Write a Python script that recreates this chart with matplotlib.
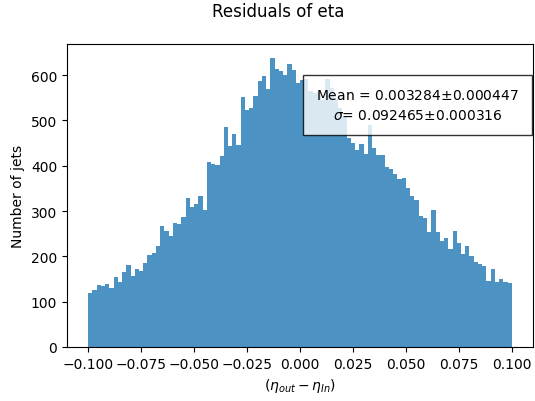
import matplotlib
matplotlib.use("Agg")
import matplotlib.pyplot as plt
import numpy as np

# histogram of eta residuals, 100 bins between -0.1 and 0.1
bin_lo = -0.1
bin_hi = 0.1
n_bins = 100
counts = [119, 126, 136, 134, 139, 130, 154, 144, 166, 182,
          157, 172, 168, 185, 204, 207, 222, 266, 255, 245,
          274, 272, 286, 330, 310, 315, 333, 303, 409, 405,
          402, 422, 486, 444, 471, 446, 552, 523, 527, 554,
          587, 599, 570, 637, 614, 609, 600, 625, 611, 583,
          590, 592, 566, 560, 562, 545, 592, 572, 548, 528,
          508, 462, 451, 435, 449, 425, 491, 440, 424, 423,
          397, 394, 381, 370, 374, 352, 334, 325, 290, 285,
          253, 302, 253, 235, 240, 216, 257, 229, 205, 222,
          200, 188, 183, 178, 146, 172, 144, 151, 143, 142]

mean_txt = "Mean = 0.003284$\\pm$0.000447"
sigma_txt = "$\\sigma$= 0.092465$\\pm$0.000316"

edges = np.linspace(bin_lo, bin_hi, n_bins + 1)
centers = 0.5 * (edges[:-1] + edges[1:])

fig = plt.figure(figsize=(5.35, 4.02), dpi=100)
ax = fig.add_axes([67 / 535, 54 / 402, 466 / 535, 303 / 402])

ax.hist(centers, bins=edges, weights=counts, alpha=0.8)

ax.set_xlabel("$(\\eta_{out} - \\eta_{In})$")
ax.set_ylabel("Number of jets")
fig.text(278 / 535, 1 - 12 / 402, "Residuals of eta", ha="center", va="center", fontsize=12)

# stats box
ax.text(0.752, 0.799, mean_txt + "\n" + sigma_txt, transform=ax.transAxes,
        ha="center", va="center", fontsize=10, linespacing=1.5,
        bbox=dict(boxstyle="square,pad=0.95", facecolor="white", edgecolor="black", alpha=0.8))

plt.savefig("out.png", dpi=100)
plt.close()
